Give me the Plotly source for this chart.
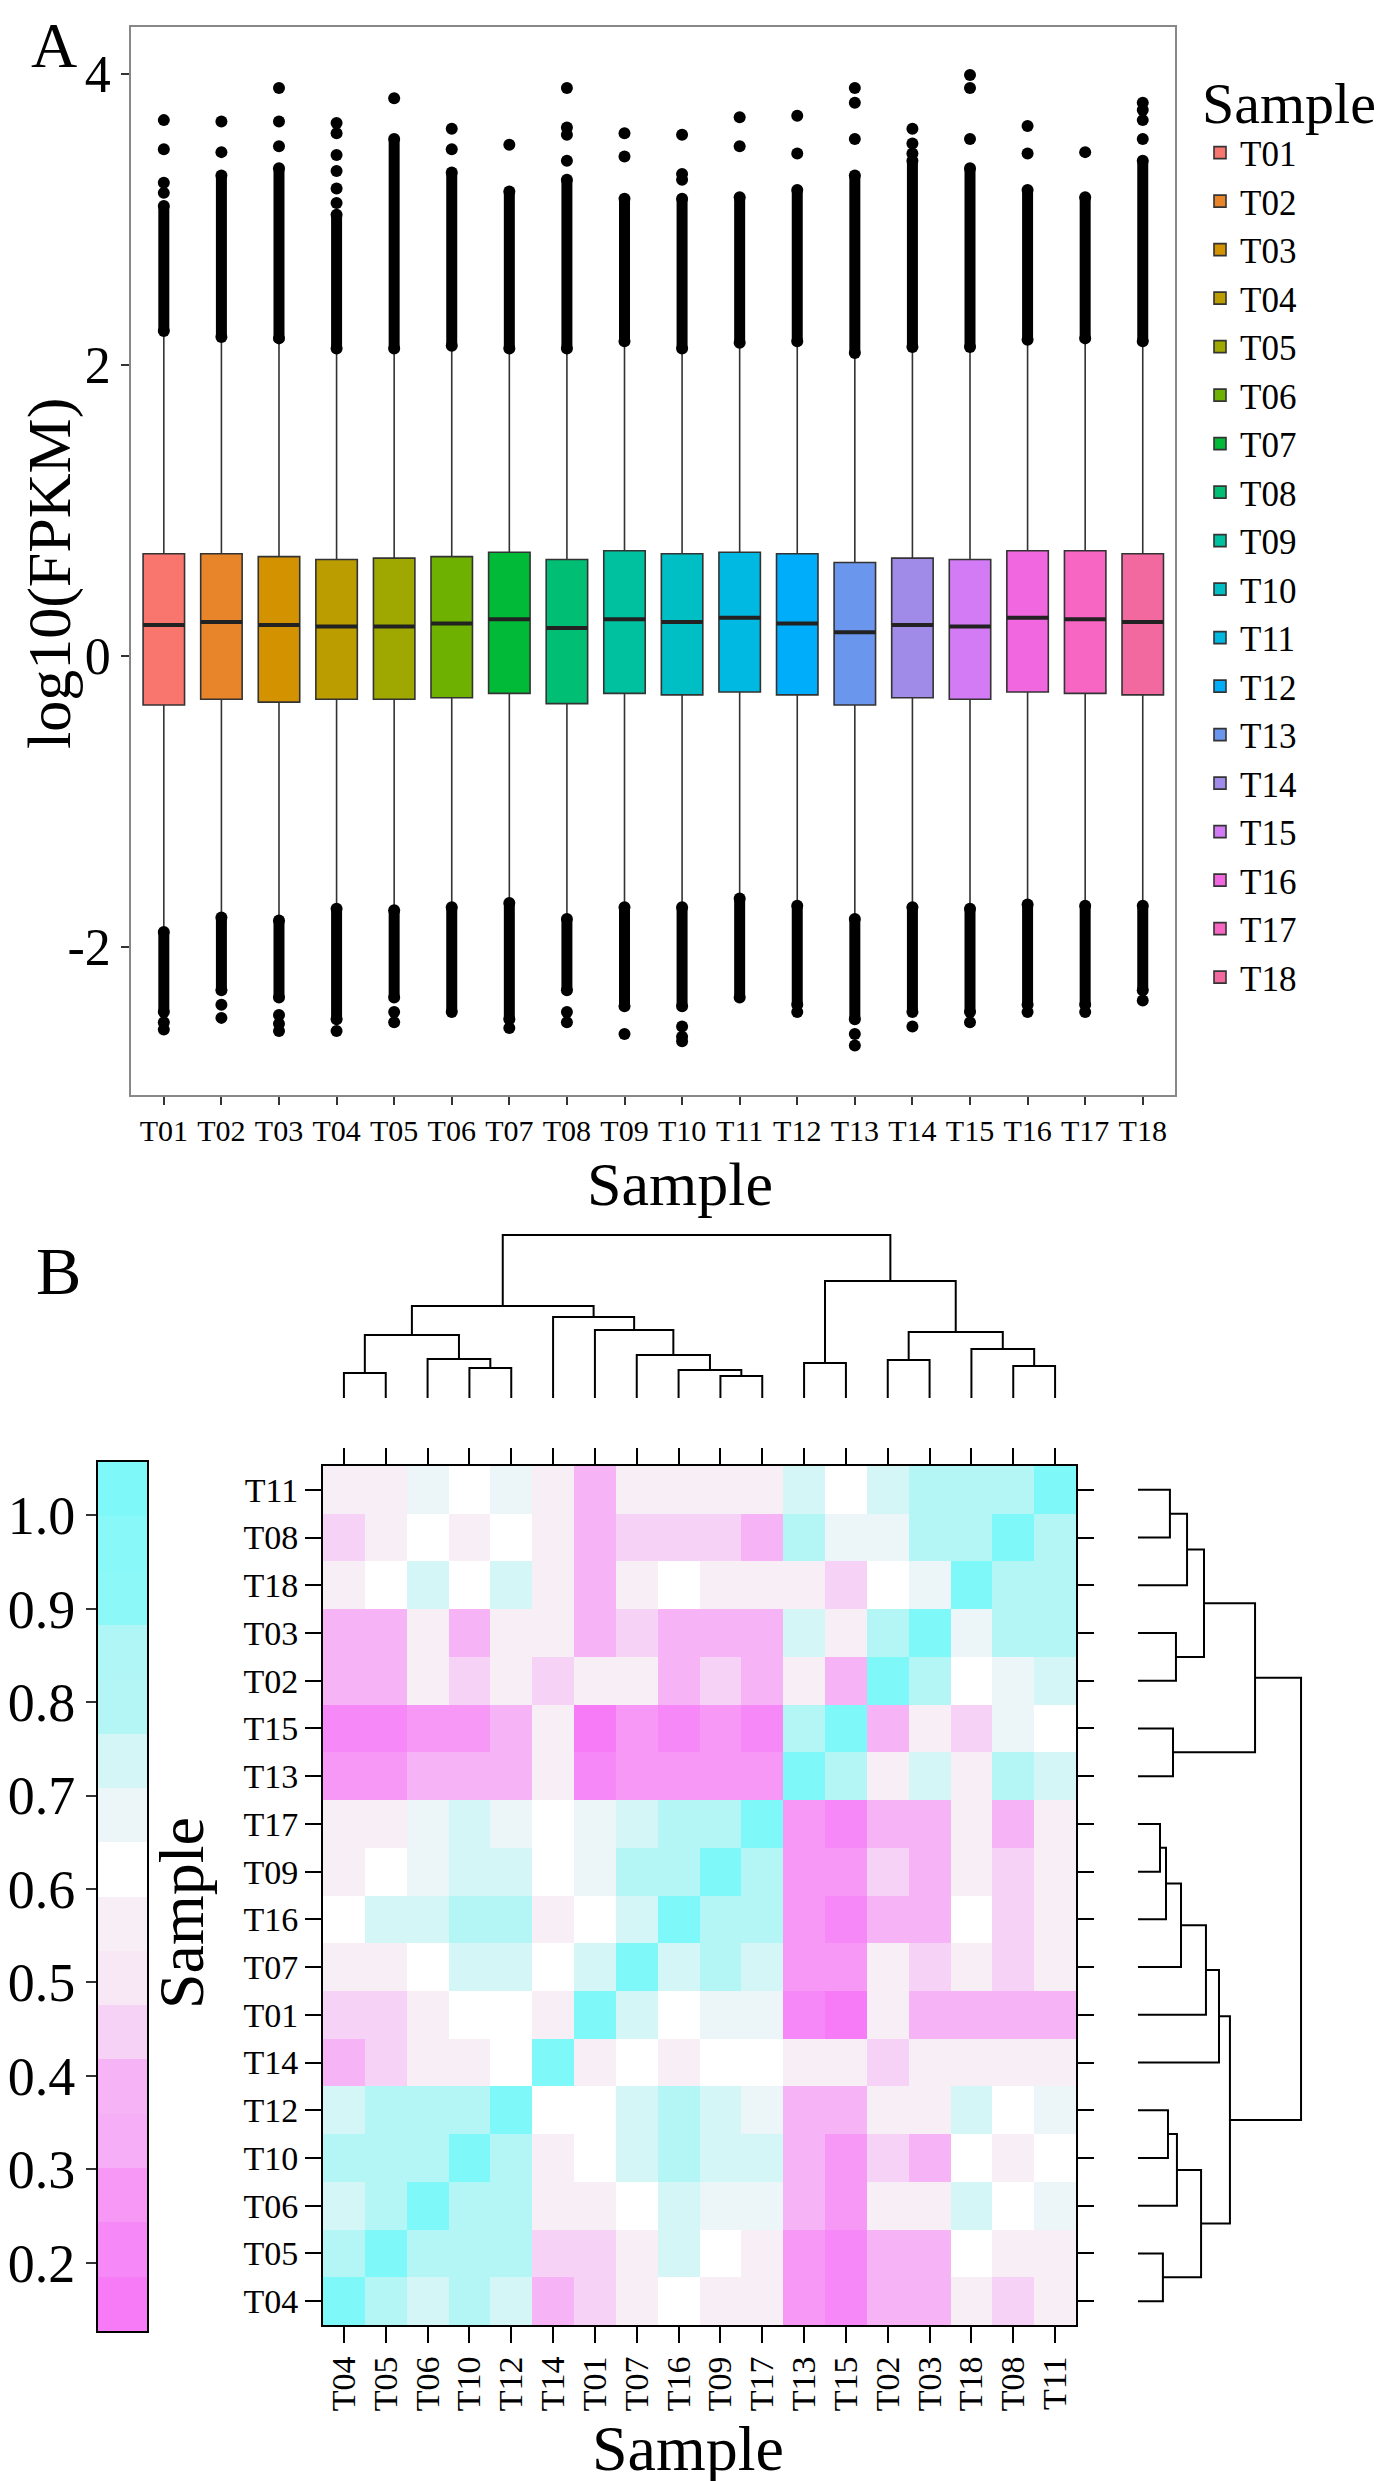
import plotly.graph_objects as go

W, H = 1393, 2481
FONT = "Liberation Serif"


def fx(px):
    return px / W


def fy(py):
    return 1 - py / H


# ---------------- Panel A : boxplots ----------------
samples = ["T01", "T02", "T03", "T04", "T05", "T06", "T07", "T08", "T09",
           "T10", "T11", "T12", "T13", "T14", "T15", "T16", "T17", "T18"]
box_colors = ["#F8766D", "#E8852B", "#D39200", "#BB9D00", "#9FA800", "#6FB100",
              "#00BA38", "#00BF74", "#00C19F", "#00BFC4", "#00B9E3", "#00ADFA",
              "#6B96EE", "#A08BE8", "#D37AF5", "#F067E0", "#F866C4", "#F1699E"]

q1 = [-0.34, -0.30, -0.32, -0.30, -0.30, -0.29, -0.26, -0.33, -0.26,
      -0.27, -0.25, -0.27, -0.34, -0.29, -0.30, -0.25, -0.26, -0.27]
median = [0.21, 0.23, 0.21, 0.20, 0.20, 0.22, 0.25, 0.19, 0.25,
          0.23, 0.26, 0.22, 0.16, 0.21, 0.20, 0.26, 0.25, 0.23]
q3 = [0.70, 0.70, 0.68, 0.66, 0.67, 0.68, 0.71, 0.66, 0.72,
      0.70, 0.71, 0.70, 0.64, 0.67, 0.66, 0.72, 0.72, 0.70]
whisker_lo = [-1.90, -1.80, -1.82, -1.74, -1.75, -1.73, -1.70, -1.81, -1.73,
              -1.73, -1.67, -1.72, -1.81, -1.73, -1.74, -1.71, -1.72, -1.72]
whisker_hi = [2.23, 2.19, 2.18, 2.11, 2.11, 2.13, 2.11, 2.11, 2.16,
              2.11, 2.15, 2.16, 2.08, 2.12, 2.12, 2.17, 2.18, 2.16]

# dense runs of outliers (drawn as solid columns) and isolated outliers
dense_hi = [3.09, 3.30, 3.35, 3.03, 3.55, 3.32, 3.19, 3.27, 3.14,
            3.14, 3.15, 3.20, 3.30, 3.40, 3.35, 3.20, 3.15, 3.40]
dense_lo = [-2.45, -2.30, -2.35, -2.50, -2.35, -2.45, -2.50, -2.30, -2.41,
            -2.41, -2.35, -2.40, -2.50, -2.45, -2.45, -2.40, -2.40, -2.30]
outliers_hi = [[3.18, 3.25, 3.48, 3.68], [3.46, 3.67], [3.50, 3.67, 3.90],
               [3.11, 3.21, 3.33, 3.44, 3.59, 3.66], [3.83], [3.48, 3.62],
               [3.51], [3.40, 3.58, 3.63, 3.90], [3.43, 3.59],
               [3.27, 3.31, 3.58], [3.50, 3.70], [3.45, 3.71],
               [3.55, 3.80, 3.90], [3.45, 3.52, 3.62], [3.55, 3.90, 3.99],
               [3.45, 3.64], [3.46], [3.55, 3.68, 3.75, 3.80]]
outliers_lo = [[-2.52, -2.57], [-2.40, -2.49], [-2.47, -2.53, -2.58], [-2.58],
               [-2.45, -2.52], [], [-2.56], [-2.45, -2.52], [-2.60],
               [-2.55, -2.62, -2.65], [], [-2.45], [-2.60, -2.68], [-2.55],
               [-2.52], [-2.45], [-2.45], [-2.37]]

# ---------------- Panel B : correlation heatmap ----------------
col_order = ["T04", "T05", "T06", "T10", "T12", "T14", "T01", "T07", "T16",
             "T09", "T17", "T13", "T15", "T02", "T03", "T18", "T08", "T11"]
row_order = ["T11", "T08", "T18", "T03", "T02", "T15", "T13", "T17", "T09",
             "T16", "T07", "T01", "T14", "T12", "T10", "T06", "T05", "T04"]

corr = [
    [0.56, 0.56, 0.68, 0.62, 0.68, 0.56, 0.39, 0.56, 0.56, 0.56, 0.56, 0.74, 0.62, 0.74, 0.80, 0.80, 0.80, 1.00],
    [0.45, 0.56, 0.62, 0.56, 0.62, 0.56, 0.39, 0.45, 0.45, 0.45, 0.39, 0.80, 0.68, 0.68, 0.80, 0.80, 1.00, 0.80],
    [0.56, 0.62, 0.74, 0.62, 0.74, 0.56, 0.39, 0.56, 0.62, 0.56, 0.56, 0.56, 0.45, 0.62, 0.68, 1.00, 0.80, 0.80],
    [0.39, 0.39, 0.56, 0.39, 0.56, 0.56, 0.39, 0.45, 0.39, 0.39, 0.39, 0.74, 0.56, 0.80, 1.00, 0.68, 0.80, 0.80],
    [0.39, 0.39, 0.56, 0.45, 0.56, 0.45, 0.56, 0.56, 0.39, 0.45, 0.39, 0.56, 0.39, 1.00, 0.80, 0.62, 0.68, 0.74],
    [0.21, 0.21, 0.27, 0.27, 0.39, 0.56, 0.16, 0.27, 0.21, 0.27, 0.21, 0.80, 1.00, 0.39, 0.56, 0.45, 0.68, 0.62],
    [0.27, 0.27, 0.39, 0.39, 0.39, 0.56, 0.21, 0.27, 0.27, 0.27, 0.27, 1.00, 0.80, 0.56, 0.74, 0.56, 0.80, 0.74],
    [0.56, 0.56, 0.68, 0.74, 0.68, 0.62, 0.68, 0.74, 0.80, 0.80, 1.00, 0.27, 0.21, 0.39, 0.39, 0.56, 0.39, 0.56],
    [0.56, 0.62, 0.68, 0.74, 0.74, 0.62, 0.68, 0.80, 0.80, 1.00, 0.80, 0.27, 0.27, 0.45, 0.39, 0.56, 0.45, 0.56],
    [0.62, 0.74, 0.74, 0.80, 0.80, 0.56, 0.62, 0.74, 1.00, 0.80, 0.80, 0.27, 0.21, 0.39, 0.39, 0.62, 0.45, 0.56],
    [0.56, 0.56, 0.62, 0.74, 0.74, 0.62, 0.74, 1.00, 0.74, 0.80, 0.74, 0.27, 0.27, 0.56, 0.45, 0.56, 0.45, 0.56],
    [0.45, 0.45, 0.56, 0.62, 0.62, 0.56, 1.00, 0.74, 0.62, 0.68, 0.68, 0.21, 0.16, 0.56, 0.39, 0.39, 0.39, 0.39],
    [0.39, 0.45, 0.56, 0.56, 0.62, 1.00, 0.56, 0.62, 0.56, 0.62, 0.62, 0.56, 0.56, 0.45, 0.56, 0.56, 0.56, 0.56],
    [0.74, 0.80, 0.80, 0.80, 1.00, 0.62, 0.62, 0.74, 0.80, 0.74, 0.68, 0.39, 0.39, 0.56, 0.56, 0.74, 0.62, 0.68],
    [0.80, 0.80, 0.80, 1.00, 0.80, 0.56, 0.62, 0.74, 0.80, 0.74, 0.74, 0.39, 0.27, 0.45, 0.39, 0.62, 0.56, 0.62],
    [0.74, 0.80, 1.00, 0.80, 0.80, 0.56, 0.56, 0.62, 0.74, 0.68, 0.68, 0.39, 0.27, 0.56, 0.56, 0.74, 0.62, 0.68],
    [0.80, 1.00, 0.80, 0.80, 0.80, 0.45, 0.45, 0.56, 0.74, 0.62, 0.56, 0.27, 0.21, 0.39, 0.39, 0.62, 0.56, 0.56],
    [1.00, 0.80, 0.74, 0.80, 0.74, 0.39, 0.45, 0.56, 0.62, 0.56, 0.56, 0.27, 0.21, 0.39, 0.39, 0.56, 0.45, 0.56],
]

# stepped colour key: band edges and colours (bottom to top)
band_edges = [0.127, 0.185, 0.243, 0.301, 0.360, 0.418, 0.476, 0.534, 0.592,
              0.650, 0.708, 0.766, 0.825, 0.883, 0.941, 0.999, 1.057]
band_colors = ["#F77AF7", "#F788F7", "#F798F6", "#F6AEF6", "#F6B4F6", "#F6D2F6",
               "#F8E8F6", "#F8EEF6", "#FFFFFF", "#ECF6F8", "#D4F6F6", "#B4F6F6",
               "#B0F6F6", "#8CF8F8", "#88F8F8", "#7EF8F8"]
cbar_ticks = [0.2, 0.3, 0.4, 0.5, 0.6, 0.7, 0.8, 0.9, 1.0]

# hierarchical clustering (same tree for rows and columns): child a, child b, height
merges = [
    ("T04", "T05", 0.153),
    ("T10", "T12", 0.184),
    ("T06", "m1", 0.239),
    ("m0", "m2", 0.387),
    ("T09", "T17", 0.135),
    ("T16", "m4", 0.172),
    ("T07", "m5", 0.264),
    ("T01", "m6", 0.417),
    ("T14", "m7", 0.497),
    ("m3", "m8", 0.564),
    ("T13", "T15", 0.215),
    ("T02", "T03", 0.233),
    ("T08", "T11", 0.196),
    ("T18", "m12", 0.301),
    ("m11", "m13", 0.405),
    ("m10", "m14", 0.718),
    ("m9", "m15", 1.000),
]


def dendro_lines(order):
    pos = {s: i for i, s in enumerate(order)}
    hgt = {s: 0.0 for s in order}
    p, h = [], []
    for k, (a, b, lv) in enumerate(merges):
        p += [pos[a], pos[a], pos[b], pos[b], None]
        h += [hgt[a], lv, lv, hgt[b], None]
        pos[f"m{k}"] = (pos[a] + pos[b]) / 2
        hgt[f"m{k}"] = lv
    return p, h


ZMIN, ZMAX = band_edges[0], band_edges[-1]
colorscale = []
for i, c in enumerate(band_colors):
    colorscale.append([(band_edges[i] - ZMIN) / (ZMAX - ZMIN), c])
    colorscale.append([(band_edges[i + 1] - ZMIN) / (ZMAX - ZMIN), c])

fig = go.Figure()

# boxes
for i, s in enumerate(samples):
    fig.add_trace(go.Box(
        x=[i], q1=[q1[i]], median=[median[i]], q3=[q3[i]],
        lowerfence=[whisker_lo[i]], upperfence=[whisker_hi[i]],
        name=s, fillcolor=box_colors[i], line=dict(color="#333333", width=1.6),
        width=0.72, whiskerwidth=0, boxpoints=False, xaxis="x", yaxis="y",
    ))

# thick median bars
mx, my = [], []
for i in range(len(samples)):
    mx += [i - 0.36, i + 0.36, None]
    my += [median[i], median[i], None]
fig.add_trace(go.Scatter(x=mx, y=my, mode="lines", line=dict(color="#222222", width=4),
                         showlegend=False, hoverinfo="skip", xaxis="x", yaxis="y"))

# dense outlier columns
dx, dy = [], []
for i in range(len(samples)):
    dx += [i, i, None, i, i, None]
    dy += [whisker_hi[i], dense_hi[i], None, whisker_lo[i], dense_lo[i], None]
fig.add_trace(go.Scatter(x=dx, y=dy, mode="lines+markers",
                         line=dict(color="black", width=11),
                         marker=dict(color="black", size=12),
                         showlegend=False, hoverinfo="skip", xaxis="x", yaxis="y"))

# isolated outliers
ox, oy = [], []
for i in range(len(samples)):
    for v in outliers_hi[i] + outliers_lo[i]:
        ox.append(i)
        oy.append(v)
fig.add_trace(go.Scatter(x=ox, y=oy, mode="markers", marker=dict(color="black", size=12),
                         showlegend=False, hoverinfo="skip", xaxis="x", yaxis="y"))

# heatmap
fig.add_trace(go.Heatmap(
    z=corr, x=list(range(len(col_order))), y=list(range(len(row_order))),
    colorscale=colorscale, zmin=ZMIN, zmax=ZMAX, showscale=False,
    xaxis="x2", yaxis="y2", hoverinfo="skip",
))

# colour key drawn as its own heatmap
band_mid = [(band_edges[i] + band_edges[i + 1]) / 2 for i in range(len(band_colors))]
fig.add_trace(go.Heatmap(
    z=[[v] for v in band_mid], x=[0], y=band_mid,
    colorscale=colorscale, zmin=ZMIN, zmax=ZMAX, showscale=False,
    xaxis="x5", yaxis="y5", hoverinfo="skip",
))

# dendrograms
tp, th = dendro_lines(col_order)
fig.add_trace(go.Scatter(x=tp, y=th, mode="lines", line=dict(color="black", width=2),
                         showlegend=False, hoverinfo="skip", xaxis="x3", yaxis="y3"))
rp, rh = dendro_lines(row_order)
fig.add_trace(go.Scatter(x=rh, y=rp, mode="lines", line=dict(color="black", width=2),
                         showlegend=False, hoverinfo="skip", xaxis="x4", yaxis="y4"))

n = len(samples)
hm_x0, hm_x1, hm_y0, hm_y1 = 315, 1068, 1458, 2317

fig.update_layout(
    width=W, height=H,
    margin=dict(l=0, r=0, t=0, b=0),
    paper_bgcolor="white", plot_bgcolor="white",
    font=dict(family=FONT, color="black"),
    boxmode="overlay",
    showlegend=True,
    legend=dict(
        x=fx(1192), y=fy(40), xanchor="left", yanchor="top",
        title=dict(text="Sample", font=dict(size=58, family=FONT)),
        font=dict(size=35, family=FONT), bgcolor="rgba(0,0,0,0)",
    ),
    xaxis=dict(
        domain=[fx(123), fx(1167)], range=[-0.57, n - 1 + 0.56], anchor="y",
        tickvals=list(range(n)), ticktext=samples, tickfont=dict(size=30),
        ticks="outside", ticklen=8, tickwidth=1.5, tickcolor="#333333",
        showline=True, mirror=True, linecolor="#888888", linewidth=1.5,
        showgrid=False, zeroline=False,
    ),
    yaxis=dict(
        domain=[fy(1087), fy(19)], range=[-3.02, 4.32], anchor="x",
        tickvals=[-2, 0, 2, 4], ticktext=["-2", "0", "2", "4"], tickfont=dict(size=52),
        ticks="outside", ticklen=8, tickwidth=1.5, tickcolor="#333333",
        showline=True, mirror=True, linecolor="#888888", linewidth=1.5,
        showgrid=False, zeroline=False,
    ),
    xaxis2=dict(
        domain=[fx(hm_x0), fx(hm_x1)], range=[-0.5, n - 0.5], anchor="y2",
        tickvals=list(range(n)), ticktext=col_order, tickangle=-90, tickfont=dict(size=34),
        ticks="outside", ticklen=16, tickwidth=2, tickcolor="black",
        showline=True, mirror="allticks", linecolor="black", linewidth=2,
        showgrid=False, zeroline=False,
    ),
    yaxis2=dict(
        domain=[fy(hm_y1), fy(hm_y0)], range=[n - 0.5, -0.5], anchor="x2",
        tickvals=list(range(n)), ticktext=row_order, tickfont=dict(size=34),
        ticks="outside", ticklen=16, tickwidth=2, tickcolor="black",
        showline=True, mirror="allticks", linecolor="black", linewidth=2,
        showgrid=False, zeroline=False,
    ),
    xaxis3=dict(domain=[fx(hm_x0), fx(hm_x1)], range=[-0.5, n - 0.5], anchor="y3",
                visible=False),
    yaxis3=dict(domain=[fy(1393.3), fy(1223.7)], range=[-0.02, 1.02], anchor="x3",
                visible=False),
    xaxis4=dict(domain=[fx(1126.7), fx(1296.3)], range=[-0.02, 1.02], anchor="y4",
                visible=False),
    yaxis4=dict(domain=[fy(hm_y1), fy(hm_y0)], range=[n - 0.5, -0.5], anchor="x4",
                visible=False),
    xaxis5=dict(domain=[fx(90), fx(139)], range=[-0.5, 0.5], anchor="y5",
                showticklabels=False, ticks="", showline=True, mirror=True,
                linecolor="black", linewidth=2, showgrid=False, zeroline=False),
    yaxis5=dict(domain=[fy(2323), fy(1454)], range=[ZMIN, ZMAX], anchor="x5",
                tickvals=cbar_ticks, ticktext=[f"{v:.1f}" for v in cbar_ticks],
                tickfont=dict(size=54), ticks="outside", ticklen=10, tickwidth=1.5,
                tickcolor="#333333", showline=True, mirror=True, linecolor="black",
                linewidth=2, showgrid=False, zeroline=False),
)

annots = [
    dict(text="A", x=fx(46), y=fy(0), font=dict(size=64), yanchor="top"),
    dict(text="B", x=fx(50), y=fy(1263), font=dict(size=68), yanchor="middle"),
    dict(text="log10(FPKM)", x=fx(41), y=fy(566), font=dict(size=62), textangle=-90,
         yanchor="middle"),
    dict(text="Sample", x=fx(672), y=fy(1176), font=dict(size=62), yanchor="middle"),
    dict(text="Sample", x=fx(680), y=fy(2478), font=dict(size=64), yanchor="bottom"),
    dict(text="Sample", x=fx(173), y=fy(1905), font=dict(size=64), textangle=-90,
         yanchor="middle"),
]
for a in annots:
    fig.add_annotation(xref="paper", yref="paper", showarrow=False,
                       xanchor="center", **a)

fig.write_html("out.html")
